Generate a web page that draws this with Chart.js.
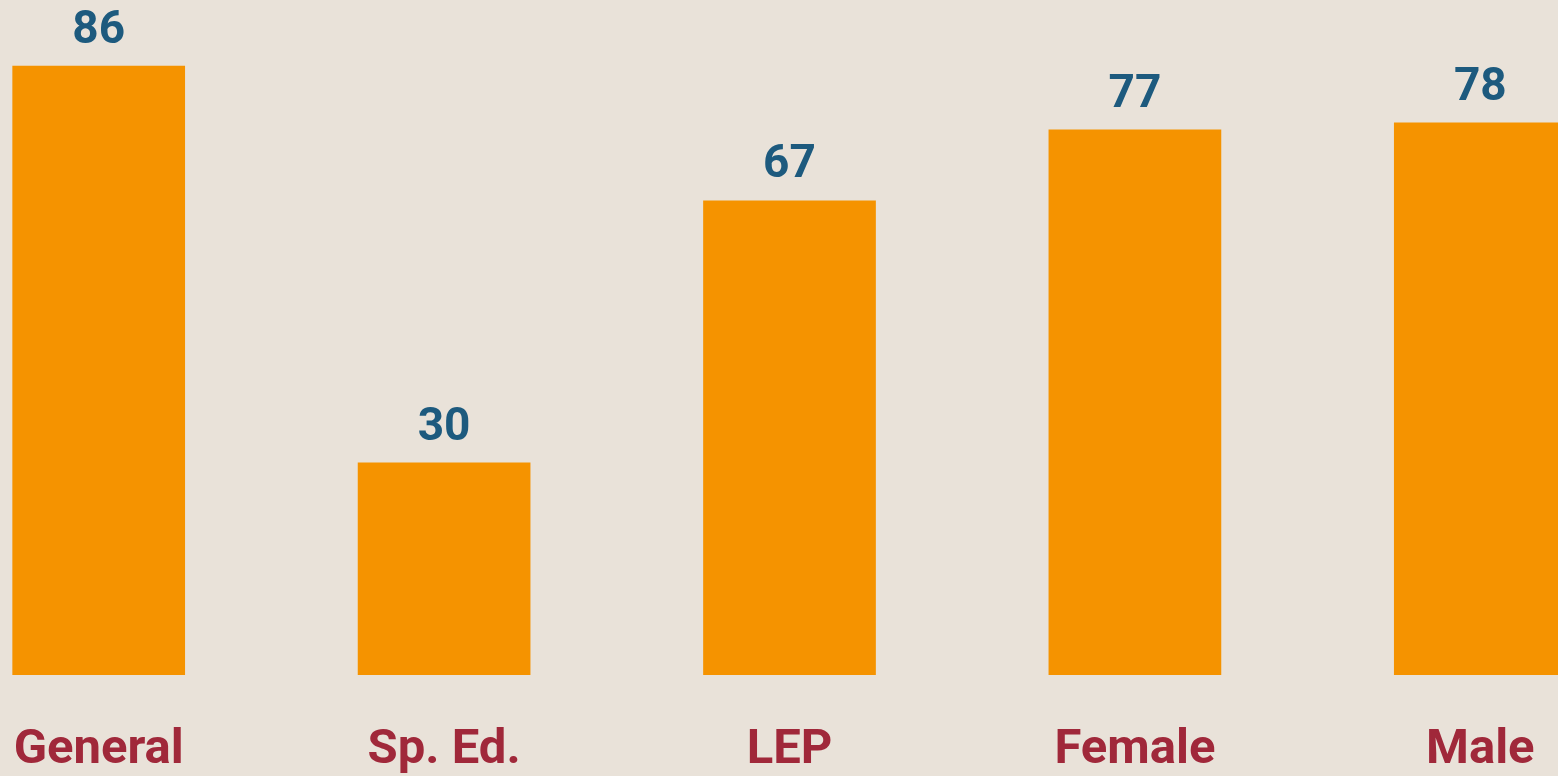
<!DOCTYPE html>
<html>
<head>
<meta charset="utf-8">
<script src="https://cdn.jsdelivr.net/npm/chart.js@4.4.1/dist/chart.umd.min.js"></script>
<style>
  html, body { margin: 0; padding: 0; background: #e9e2d9; overflow: hidden; }
  #wrap { position: absolute; left: -74px; top: 0; width: 1727px; height: 776px; }
</style>
</head>
<body>
<div id="wrap"><canvas id="myChart"></canvas></div>
<script>
const ctx = document.getElementById("myChart");

const categories = ["General", "Sp. Ed.", "LEP", "Female", "Male"];
const values = [86, 30, 67, 77, 78];

// value labels over each bar
const valueLabels = {
  id: "valueLabels",
  afterDatasetsDraw(chart) {
    const c = chart.ctx;
    const meta = chart.getDatasetMeta(0);
    c.save();
    c.font = "bold 46px Roboto, 'Liberation Sans', sans-serif";
    c.fillStyle = "#1d5a7e";
    c.textAlign = "center";
    c.textBaseline = "alphabetic";
    meta.data.forEach((bar, i) => {
      c.fillText(String(values[i]), bar.x, bar.y - 23);
    });
    c.restore();
  },
};

const myChart = new Chart(ctx, {
  type: "bar",
  data: {
    labels: categories,
    datasets: [
      {
        data: values,
        backgroundColor: "#f59300",
        borderWidth: 0,
        barPercentage: 1,
        categoryPercentage: 0.5,
      },
    ],
  },
  options: {
    responsive: true,
    maintainAspectRatio: false,
    animation: false,
    layout: { padding: 0 },
    plugins: {
      legend: { display: false },
      tooltip: { enabled: false },
    },
    scales: {
      y: {
        display: false,
        min: 0,
        max: 95.3,
      },
      x: {
        grid: { display: false, drawTicks: false },
        border: { display: false },
        ticks: {
          color: "#a0283a",
          padding: 46,
          font: { family: "Roboto, 'Liberation Sans', sans-serif", size: 49, weight: "bold" },
        },
        afterFit: (s) => {
          s.height = 101;
        },
      },
    },
  },
  plugins: [valueLabels],
});
</script>
</body>
</html>
